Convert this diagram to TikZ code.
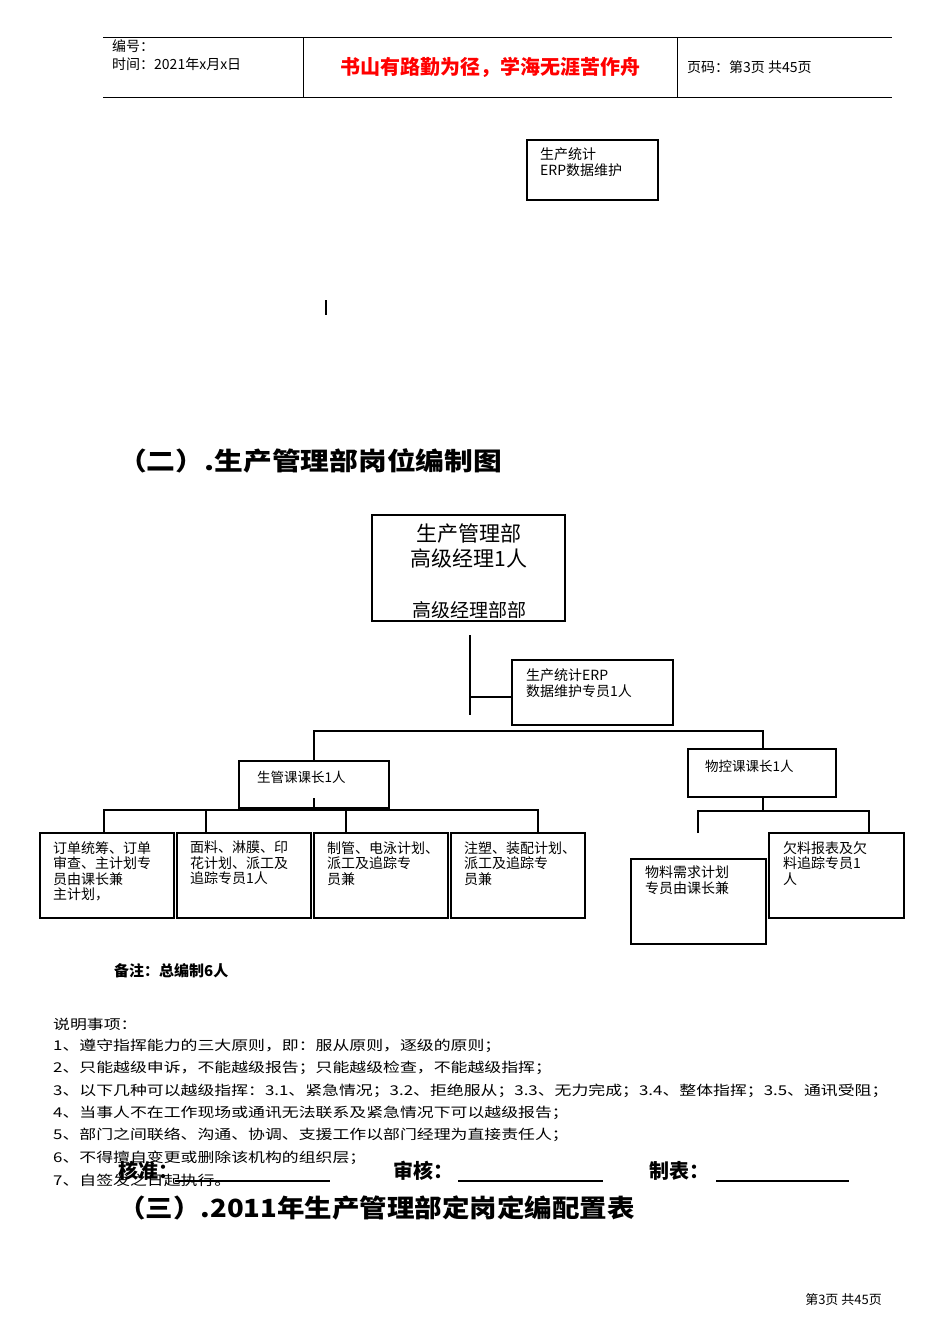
\documentclass[tikz,border=0pt]{standalone}
\usepackage{fontspec}
\setmainfont{Noto Sans CJK SC}
\begin{document}
\begin{tikzpicture}[x=1pt,y=-1pt,
  bx/.style={draw,line width=1.6pt},
  ln/.style={line width=1.6pt},
  tx/.style={anchor=north west,inner sep=0pt,align=left,font=\fontsize{14}{16}\selectfont},
  nt/.style={anchor=west,inner sep=0pt,font=\fontsize{13.5}{15}\selectfont}]
\useasboundingbox (0,0) rectangle (950,1344);
% header
\draw[thin] (103,37) -- (892,37) (103,97) -- (892,97) (303,37) -- (303,97) (677,37) -- (677,97);
\node[nt,font=\fontsize{14}{16}\selectfont] (h1) at (112,46) {编号：};
\node[nt,font=\fontsize{14}{16}\selectfont] (h2) at (112,64) {时间：2021年x月x日};
\node[inner sep=0pt,text=red,font=\fontsize{20}{22}\selectfont\bfseries] (h3) at (490,67) {书山有路勤为径，学海无涯苦作舟};
\node[nt,font=\fontsize{14}{16}\selectfont] (h4) at (687,67) {页码：第3页 共45页};
% top box
\draw[bx] (527,140) rectangle (658,200);
\node[tx] (e1) at (540,147) {生产统计\\ERP数据维护};
\draw[line width=1.5pt] (326,300) -- (326,315);
\node[anchor=west,inner sep=0pt,font=\fontsize{25}{28}\selectfont\bfseries] (t2) at (118,461) {\scalebox{1.15}[1]{（二）.生产管理部岗位编制图}};
% manager
\draw[bx] (372,515) rectangle (565,621);
\node[inner sep=0pt,align=center,font=\fontsize{21}{25}\selectfont] (m) at (469,546) {生产管理部\\高级经理1人};
\begin{scope}
\clip (372,515) rectangle (565,617);
\node[inner sep=0pt,font=\fontsize{19}{22}\selectfont] (m2) at (469,610) {高级经理部部};
\end{scope}
\draw[ln] (470,635) -- (470,715);
\draw[ln] (470,697) -- (512,697);
\draw[bx] (512,660) rectangle (673,725);
\node[tx] (erp) at (526,668) {生产统计ERP\\数据维护专员1人};
\draw[ln] (314,761) -- (314,731) -- (763,731) -- (763,749);
\draw[bx] (239,761) rectangle (389,808);
\node[nt] (sg) at (257,777) {生管课课长1人};
\draw[bx] (688,749) rectangle (836,797);
\node[nt] (wk) at (705,766) {物控课课长1人};
% sub left
\draw[ln] (314,798) -- (314,810);
\draw[ln] (104,833) -- (104,810) -- (538,810) -- (538,833);
\draw[ln] (206,810) -- (206,833) (346,810) -- (346,833);
\foreach \a/\t in {40/{订单统筹、订单\\审查、主计划专\\员由课长兼\\主计划，},177/{面料、淋膜、印\\花计划、派工及\\追踪专员1人},314/{制管、电泳计划、\\派工及追踪专\\员兼},451/{注塑、装配计划、\\派工及追踪专\\员兼}}{
  \draw[bx] (\a,833) rectangle (\a+134,918);
  \node[tx,font=\fontsize{14}{15.5}\selectfont] at (\a+13,841) {\t};
}
% sub right
\draw[ln] (763,797) -- (763,811);
\draw[ln] (698,833) -- (698,811) -- (869,811) -- (869,833);
\draw[bx] (631,859) rectangle (766,944);
\node[tx,font=\fontsize{14}{15.5}\selectfont] (w1) at (645,866) {物料需求计划\\专员由课长兼};
\draw[bx] (769,833) rectangle (904,918);
\node[tx,font=\fontsize{14}{15.5}\selectfont] (w2) at (783,841) {欠料报表及欠\\料追踪专员1\\人};
% notes
\node[nt,font=\fontsize{15}{17}\selectfont\bfseries] (bz) at (114,971) {备注：总编制6人};
\foreach \y/\t in {1024/{说明事项：},1046/{1、遵守指挥能力的三大原则，即：服从原则，逐级的原则；},1068/{2、只能越级申诉，不能越级报告；只能越级检查，不能越级指挥；},1091/{3、以下几种可以越级指挥：3.1、紧急情况；3.2、拒绝服从；3.3、无力完成；3.4、整体指挥；3.5、通讯受阻；},1113/{4、当事人不在工作现场或通讯无法联系及紧急情况下可以越级报告；},1135/{5、部门之间联络、沟通、协调、支援工作以部门经理为直接责任人；},1158/{6、不得擅自变更或删除该机构的组织层；},1180/{7、自签发之日起执行。}}
  \node[nt] at (53,\y) {\scalebox{1.25}[1]{\t}};
\node[nt,font=\fontsize{20}{22}\selectfont\bfseries] (hz) at (118,1171) {核准：};
\node[nt,font=\fontsize{20}{22}\selectfont\bfseries] (sh) at (393,1171) {审核：};
\node[nt,font=\fontsize{20}{22}\selectfont\bfseries] (zb) at (649,1171) {制表：};
\draw[line width=1.5pt] (175,1181) -- (330,1181) (458,1181) -- (603,1181) (716,1181) -- (849,1181);
\node[anchor=west,inner sep=0pt,font=\fontsize{25}{28}\selectfont\bfseries] (t3) at (118,1208) {\scalebox{1.1}[1]{（三）.2011年生产管理部定岗定编配置表}};
\node[anchor=east,inner sep=0pt,font=\fontsize{13}{15}\selectfont] (ft) at (882,1300) {第3页 共45页};
\end{tikzpicture}
\end{document}
